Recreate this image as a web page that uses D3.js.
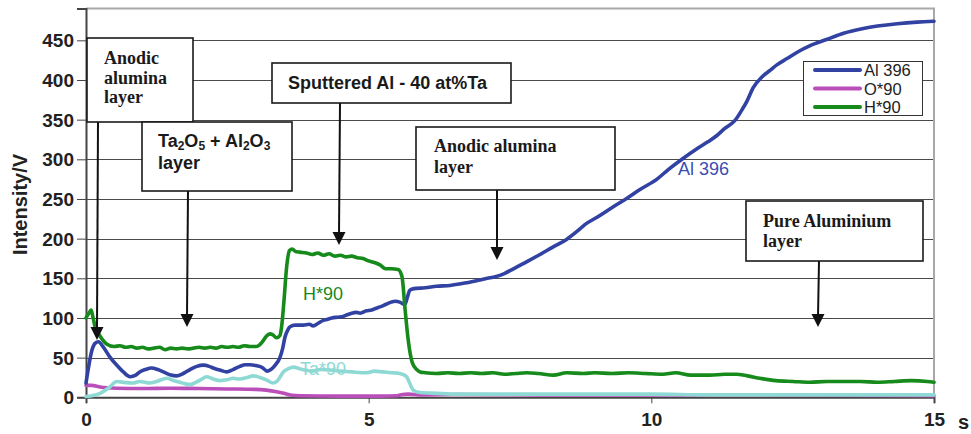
<!DOCTYPE html>
<html>
<head>
<meta charset="utf-8">
<script src="https://cdn.jsdelivr.net/npm/d3@7"></script>
<style>
  html, body { margin: 0; padding: 0; background: #fff; }
  svg { display: block; }
</style>
</head>
<body>
<svg id="chart" width="971" height="434"></svg>
<script>
// ---------- DATA ----------
const xTicks = [0, 5, 10, 15];
const yTicks = [0, 50, 100, 150, 200, 250, 300, 350, 400, 450];

const alTime = [0,0.05,0.1,0.16,0.22,0.3,0.42,0.55,0.66,0.78,0.88,0.95,1.05,1.16,1.27,1.37,1.5,1.6,1.72,1.84,1.96,2.08,2.18,2.25,2.38,2.49,2.6,2.72,2.82,2.9,3.0,3.13,3.2,3.27,3.34,3.43,3.48,3.52,3.57,3.61,3.7,3.84,3.95,4.02,4.1,4.2,4.26,4.35,4.45,4.55,4.62,4.7,4.78,4.85,4.96,5.05,5.12,5.2,5.3,5.4,5.47,5.55,5.64,5.68,5.73,5.8,6.0,6.2,6.44,6.7,6.97,7.1,7.24,7.4,7.56,7.8,8.03,8.25,8.5,8.7,8.83,9.04,9.3,9.57,9.8,10.1,10.3,10.56,10.8,11.0,11.16,11.3,11.48,11.6,11.69,11.8,11.96,12.1,12.22,12.4,12.58,12.8,13.1,13.4,13.75,14.0,14.35,14.7,15];
const alValues = [18,40,58,68,70,64,51,40,32,26,28,32,35,37,35,32,28,27,30,35,39,40.5,39,37,34,32,35,39,41,41,40,37,33,35,40,50,62,76,85,89,91,91,92,90,93,97,98,100,101,102,104,106,107,106,109,110,112,114,117,120,121,120,117,125,135,137,138,140,141,144,148,150,152,156,162,171,180,189,199,210,218,227,239,251,262,275,287,301,313,322,330,339,349,362,373,390,404,412,419,427,435,443,451,459,465,468,471,473,474];

const hTime = [0,0.05,0.09,0.12,0.16,0.25,0.37,0.5,0.6,0.7,0.8,0.9,1.0,1.1,1.2,1.3,1.4,1.5,1.6,1.7,1.8,1.9,2.0,2.1,2.2,2.3,2.4,2.5,2.6,2.7,2.8,2.9,3.0,3.05,3.12,3.19,3.25,3.3,3.37,3.43,3.46,3.5,3.55,3.6,3.65,3.7,3.78,3.9,4.0,4.1,4.2,4.3,4.4,4.5,4.6,4.7,4.8,4.9,5.0,5.1,5.2,5.3,5.4,5.52,5.59,5.64,5.7,5.77,5.85,5.91,6.0,6.2,6.4,6.6,6.8,7.0,7.2,7.4,7.6,7.8,8.0,8.27,8.5,8.8,9.0,9.3,9.6,9.9,10.2,10.43,10.7,11.04,11.3,11.5,11.7,11.92,12.2,12.51,12.8,13.1,13.4,13.7,14.0,14.3,14.6,14.88,15];
const hValues = [100,106,110,102,89,77,67,64,65,63,64,62,63,61,62,63,60,62,61,62,61,62,63,62,63,62,64,63,64,63,65,64,64,65,70,77,80,79,75,78,89,120,165,185,187,184,183,182,180,182,179,181,178,179,177,178,176,175,172,170,167,162,162,161,152,114,72,44,35,32,31,30,31,30,31,30,31,29,30,31,30,28,31,30,31,30,31,30,29,31,28,28,29,29,27,24,21,20,19,20,20,20,19,20,21,20,19];

const taTime = [0,0.25,0.42,0.54,0.65,0.83,0.95,1.13,1.25,1.43,1.55,1.66,1.75,1.84,1.95,2.05,2.13,2.25,2.38,2.49,2.6,2.72,2.85,2.96,3.08,3.19,3.31,3.4,3.49,3.58,3.67,3.78,3.9,4.0,4.15,4.37,4.5,4.7,4.96,5.1,5.25,5.4,5.55,5.67,5.73,5.79,5.91,6.2,6.6,7.0,8.0,9.0,10.0,11.0,12.0,13.0,14.0,15];
const taValues = [1,5,13,20,19,18,20,18,20,24,21,19,17,16,19,23,26,23,21,22,24,23,25,27,25,22,18,22,32,36,38,36,34,33,35,34,33,32,31,33,32,31,30,26,17,9,6,5,4,4,4,4,4,3,3,3,3,3];

const oTime = [0,0.1,0.25,0.54,1,1.5,2,2.5,3.0,3.19,3.37,3.5,3.61,3.8,4.5,5.2,5.5,5.6,5.7,5.9,6.5,8,10,12,15];
const oValues = [15,15,13,11.5,11,11.5,11,10.5,10,9,7,5,3,2,1.5,1.5,2,3.5,4,3,3.5,3,3,3,2];

const legendLabels = ["Al 396", "O*90", "H*90"];
const seriesLabels = ["Al 396", "H*90", "Ta*90"];
const yTitle = "Intensity/V";
const xTitle = "s";

// ---------- LAYOUT ----------
const colors = { al: "#3142a3", o: "#bb4fba", h: "#168a1a", ta: "#8fd9d5" };
const sans = "'Liberation Sans', Arial, sans-serif";
const serif = "'Liberation Serif', 'Times New Roman', serif";

const svg = d3.select("#chart");
const x = d3.scaleLinear().domain([0, 15]).range([86, 934]);
const y = d3.scaleLinear().domain([0, 490]).range([397.3, 8.6]);

// grid
svg.append("g").selectAll("line").data(yTicks.filter(d => d > 0)).join("line")
  .attr("x1", x(0)).attr("x2", x(15))
  .attr("y1", d => Math.round(y(d)) + 0.5).attr("y2", d => Math.round(y(d)) + 0.5)
  .attr("stroke", "#4a4a4a").attr("stroke-width", 1);

// frame top/right
svg.append("line").attr("x1", x(0)).attr("x2", x(15) + 1).attr("y1", y(490)).attr("y2", y(490))
  .attr("stroke", "#a8a8a8").attr("stroke-width", 2);
svg.append("line").attr("x1", x(15)).attr("x2", x(15)).attr("y1", y(490)).attr("y2", y(0))
  .attr("stroke", "#a8a8a8").attr("stroke-width", 2);

// axes
const yAxis = d3.axisLeft(y).tickValues(yTicks).tickSize(9).tickPadding(3);
const gy = svg.append("g").attr("transform", `translate(${x(0)},0)`).call(yAxis);
gy.select(".domain").attr("stroke", "#444").attr("stroke-width", 2);
gy.selectAll(".tick line").attr("stroke", "#444");
gy.selectAll(".tick text").attr("font-family", sans).attr("font-weight", "bold")
  .attr("font-size", 19).attr("fill", "#222").attr("dy", "0.35em");

const xAxis = d3.axisBottom(x).tickValues(xTicks).tickSize(6).tickPadding(9);
const gx = svg.append("g").attr("transform", `translate(0,${y(0)})`).call(xAxis);
gx.select(".domain").attr("stroke", "#444").attr("stroke-width", 2);
gx.selectAll(".tick line").attr("stroke", "#444");
gx.selectAll(".tick text").attr("font-family", sans).attr("font-weight", "bold")
  .attr("font-size", 19).attr("fill", "#222");

svg.append("text").attr("transform", "translate(27,204.5) rotate(-90)")
  .attr("text-anchor", "middle").attr("font-family", sans).attr("font-weight", "bold")
  .attr("font-size", 20).attr("fill", "#222").text(yTitle);
svg.append("text").attr("x", 958).attr("y", 429)
  .attr("font-family", sans).attr("font-weight", "bold").attr("font-size", 20)
  .attr("fill", "#222").text(xTitle);

// Ta label (drawn beneath lines)
svg.append("text").attr("x", 300).attr("y", 375).attr("font-family", sans)
  .attr("font-size", 18).attr("fill", colors.ta).text(seriesLabels[2]);

// lines
const line = d3.line().x(d => x(d[0])).y(d => y(d[1])).curve(d3.curveMonotoneX);
const zip = (a, b) => a.map((t, i) => [t, b[i]]);
const series = [
  { pts: zip(oTime, oValues), c: colors.o },
  { pts: zip(taTime, taValues), c: colors.ta },
  { pts: zip(alTime, alValues), c: colors.al },
  { pts: zip(hTime, hValues), c: colors.h }
];
svg.append("g").selectAll("path").data(series).join("path")
  .attr("d", d => line(d.pts)).attr("fill", "none")
  .attr("stroke", d => d.c).attr("stroke-width", 3.6)
  .attr("stroke-linejoin", "round").attr("stroke-linecap", "round");

// series labels
svg.append("text").attr("x", 678).attr("y", 175).attr("font-family", sans)
  .attr("font-size", 18).attr("fill", "#3a4db3").text(seriesLabels[0]);
svg.append("text").attr("x", 303).attr("y", 300).attr("font-family", sans)
  .attr("font-size", 18).attr("fill", colors.h).text(seriesLabels[1]);

// legend
const lg = svg.append("g");
lg.append("rect").attr("x", 803.5).attr("y", 61.5).attr("width", 119).attr("height", 54)
  .attr("fill", "#fff").attr("stroke", "#333").attr("stroke-width", 1);
const lgColors = [colors.al, colors.o, colors.h];
legendLabels.forEach((lab, i) => {
  const yy = 70 + i * 18.5;
  lg.append("line").attr("x1", 815).attr("x2", 860).attr("y1", yy).attr("y2", yy)
    .attr("stroke", lgColors[i]).attr("stroke-width", 4).attr("stroke-linecap", "round");
  lg.append("text").attr("x", 864).attr("y", yy + 6).attr("font-family", sans)
    .attr("font-size", 16.5).attr("fill", "#222").text(lab);
});

// annotations
const boxes = [
  { x0: 87, y0: 38, x1: 193, y1: 122, font: serif, tx: 104, lines: ["Anodic", "alumina", "layer"], base: 64, lh: 19.5 },
  { x0: 142, y0: 122, x1: 292, y1: 191, font: sans, tx: 158, lines: ["__TA__", "layer"], base: 147, lh: 21.5 },
  { x0: 272, y0: 63, x1: 511, y1: 103, font: sans, tx: 288, lines: ["Sputtered Al - 40 at%Ta"], base: 89, lh: 20 },
  { x0: 416, y0: 127, x1: 615, y1: 190, font: serif, tx: 434, lines: ["Anodic alumina", "layer"], base: 152, lh: 21 },
  { x0: 746, y0: 201, x1: 923, y1: 261, font: serif, tx: 763, lines: ["Pure Aluminium", "layer"], base: 227, lh: 19.5 }
];
const arrows = [
  [98, 122, 97, 340], [188, 191, 187, 327], [340, 103, 339, 245], [497, 190, 497, 260], [819, 261, 818, 327]
];
const ag = svg.append("g");
arrows.forEach(a => {
  const [x1, y1, x2, y2] = a;
  ag.append("line").attr("x1", x1).attr("y1", y1).attr("x2", x2).attr("y2", y2 - 10)
    .attr("stroke", "#111").attr("stroke-width", 2);
  ag.append("path").attr("d", `M${x2 - 6.5},${y2 - 13} L${x2 + 6.5},${y2 - 13} L${x2},${y2} Z`).attr("fill", "#111");
});
boxes.forEach(b => {
  const g = svg.append("g");
  g.append("rect").attr("x", b.x0).attr("y", b.y0).attr("width", b.x1 - b.x0).attr("height", b.y1 - b.y0)
    .attr("fill", "#fff").attr("stroke", "#1a1a1a").attr("stroke-width", 1.6);
  b.lines.forEach((ln, i) => {
    const t = g.append("text").attr("x", b.tx).attr("y", b.base + i * b.lh)
      .attr("font-family", b.font).attr("font-weight", "bold").attr("font-size", 18).attr("fill", "#1a1a1a");
    if (ln === "__TA__") {
      const parts = [["Ta", 0], ["2", 1], ["O", 0], ["5", 1], [" + Al", 0], ["2", 1], ["O", 0], ["3", 1]];
      parts.forEach((p, k) => {
        const isSub = p[1] === 1;
        const prevSub = k > 0 && parts[k - 1][1] === 1;
        const ts = t.append("tspan").text(p[0]);
        if (isSub) ts.attr("font-size", 12);
        ts.attr("dy", isSub ? (prevSub ? 0 : 2.5) : (prevSub ? -2.5 : 0));
      });
    } else {
      t.text(ln);
    }
  });
});
</script>
</body>
</html>
